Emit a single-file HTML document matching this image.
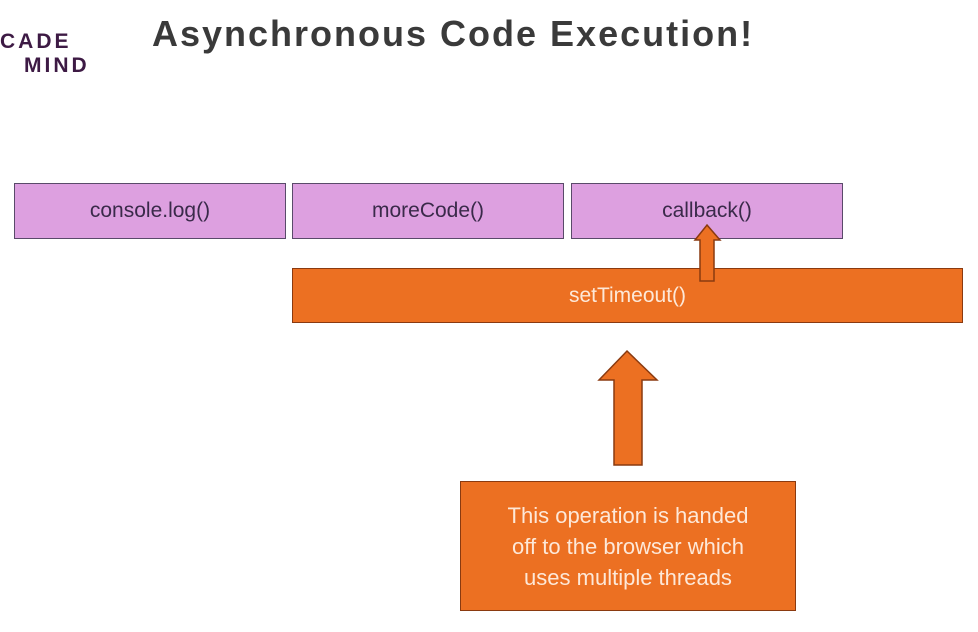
<!DOCTYPE html>
<html><head><style>
body{margin:0;width:978px;height:632px;background:#fff;position:relative;overflow:hidden;font-family:"Liberation Sans",sans-serif}
.b{position:absolute;box-sizing:border-box;display:flex;align-items:center;justify-content:center;font-size:21px}
.p{background:#dda0e0;border:1.5px solid #5a4a6a;color:#3a2a4a}
.o{background:#ec7022;border:1.5px solid #8a3a10;color:#fde8d8}
</style></head><body>
<div style="position:absolute;left:0;top:30px;font-weight:bold;font-size:21px;color:#3d1a44;letter-spacing:3px;line-height:24px">CADE<br><span style="padding-left:24px">MIND</span></div>
<div style="position:absolute;left:152px;top:13px;font-weight:bold;font-size:36px;letter-spacing:2px;color:#3a3a3a">Asynchronous Code Execution!</div>
<div class="b p" style="left:14px;top:183px;width:272px;height:56px">console.log()</div>
<div class="b p" style="left:292px;top:183px;width:272px;height:56px">moreCode()</div>
<div class="b p" style="left:571px;top:183px;width:272px;height:56px">callback()</div>
<div class="b o" style="left:292px;top:268px;width:671px;height:55px">setTimeout()</div>
<svg style="position:absolute;left:0;top:0" width="978" height="632">
<polygon points="707,225 720,240 714,240 714,281 700,281 700,240 695,240" fill="#ec7022" stroke="#8a3a10" stroke-width="1.5"/>
<polygon points="627,351 657,380 642,380 642,465 614,465 614,380 599,380" fill="#ec7022" stroke="#8a3a10" stroke-width="1.5"/>
</svg>
<div class="b o" style="left:460px;top:481px;width:336px;height:130px;font-size:22px;line-height:31px;text-align:center">This operation is handed<br>off to the browser which<br>uses multiple threads</div>
</body></html>
